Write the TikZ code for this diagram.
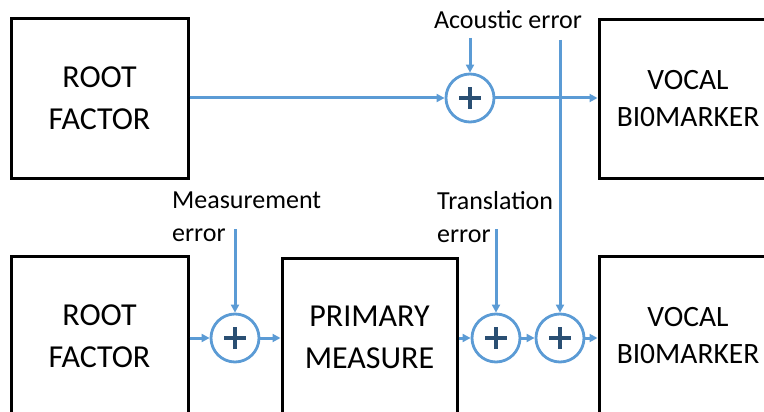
\documentclass[tikz,border=0pt]{standalone}
\usepackage{fontspec}
\setmainfont{Carlito}
\usetikzlibrary{arrows.meta}
\definecolor{flow}{HTML}{5B9BD5}
\definecolor{plusc}{HTML}{2A4F73}
\begin{document}
\begin{tikzpicture}[x=1pt,y=-1pt,
  blockbox/.style={draw=black,line width=3pt,rectangle,inner sep=0pt,align=center,
    font=\fontsize{32}{42}\selectfont},
  vocalbox/.style={blockbox,font=\fontsize{29.5}{37}\selectfont},
  sumnode/.style={draw=flow,line width=2.8pt,circle,minimum size=48pt,inner sep=0pt},
  flowline/.style={draw=flow,line width=3pt,-{Triangle[length=8pt,width=8pt]}},
  errlabel/.style={inner sep=0pt,align=left,font=\fontsize{26}{33}\selectfont},
]
\useasboundingbox (0,0) rectangle (764,412);
\begin{scope}
\clip (0,0) rectangle (764,412);
\node[blockbox,minimum width=177pt,minimum height=159pt] (rf1) at (99.5,98.5) {ROOT\\FACTOR};
\node[vocalbox,minimum width=178pt,minimum height=158pt] (vb1) at (688,99) {VOCAL\\BI0MARKER};
\node[blockbox,minimum width=177pt,minimum height=160pt] (rf2) at (99.5,336) {ROOT\\FACTOR};
\node[blockbox,minimum width=175pt,minimum height=158pt] (pm) at (369.5,337) {PRIMARY\\MEASURE};
\node[vocalbox,minimum width=178pt,minimum height=160pt] (vb2) at (688,336) {VOCAL\\BI0MARKER};
\end{scope}

\node[sumnode] (s1) at (470,98) {};
\node[sumnode] (s2) at (235,338) {};
\node[sumnode] (s3) at (496,338) {};
\node[sumnode] (s4) at (560,338) {};
\foreach \s in {s1,s2,s3,s4}{
  \draw[plusc,line width=4pt] ([xshift=-11pt]\s.center) -- ([xshift=11pt]\s.center);
  \draw[plusc,line width=4pt] ([yshift=-11pt]\s.center) -- ([yshift=11pt]\s.center);
}

\node[inner sep=0pt,anchor=base,font=\fontsize{26}{33}\selectfont] (ac) at (508,29) {Acoustic error};
\node[errlabel,anchor=west] (me) at (172,217) {Measurement\\error};
\node[errlabel,anchor=west] (te) at (437,217) {Translation\\error};

\coordinate (a1) at (470,38);
\coordinate (a2) at (560,40);
\coordinate (m1) at (235,229);
\coordinate (t1) at (496,229);

\draw[flowline] (rf1.east |- s1) -- (s1.west);
\draw[flowline] (s1.east) -- (vb1.west |- s1);
\draw[flowline] (a1) -- (s1.north);
\draw[flowline] (a2) -- (s4.north);
\draw[flowline] (m1) -- (s2.north);
\draw[flowline] (t1) -- (s3.north);
\draw[flowline] (rf2.east |- s2) -- (s2.west);
\draw[flowline] (s2.east) -- (pm.west |- s2);
\draw[flowline] (pm.east |- s3) -- (s3.west);
\draw[flowline] (s3.east) -- (s4.west);
\draw[flowline] (s4.east) -- (vb2.west |- s4);
\end{tikzpicture}
\end{document}
